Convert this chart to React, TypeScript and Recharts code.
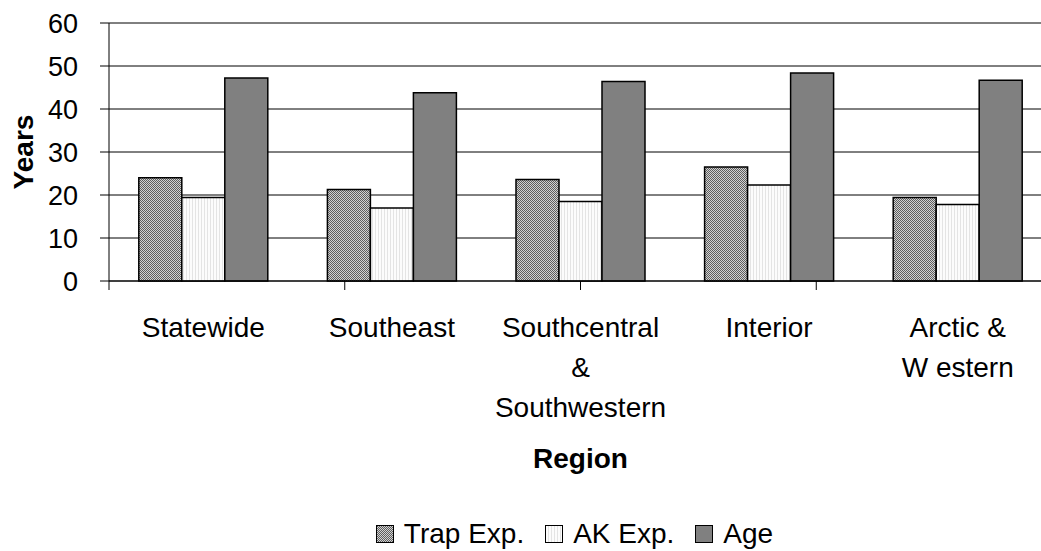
import { BarChart, Bar, XAxis, YAxis, CartesianGrid, Legend, Label } from 'recharts';

const regions = ['Statewide', 'Southeast', 'Southcentral & Southwestern', 'Interior', 'Arctic & Western'];
const regionLines = [['Statewide'], ['Southeast'], ['Southcentral', '&', 'Southwestern'], ['Interior'], ['Arctic &', 'W estern']];
const trapExp = [24.0, 21.3, 23.6, 26.5, 19.4];
const akExp = [19.4, 17.0, 18.5, 22.3, 17.8];
const age = [47.2, 43.8, 46.4, 48.4, 46.7];
const yTicks = [0, 10, 20, 30, 40, 50, 60];
const edgeTicks = [0, 1, 2, 3, 4, 5];

const FONT = '"Liberation Sans", Arial, sans-serif';

const data = regions.map((r, i) => ({ region: r, trap: trapExp[i], ak: akExp[i], age: age[i] }));

const series = [
  { key: 'trap', name: 'Trap Exp.', fill: 'url(#trapPat)' },
  { key: 'ak', name: 'AK Exp.', fill: 'url(#akPat)' },
  { key: 'age', name: 'Age', fill: '#808080' },
];

function Patterns() {
  return (
    <svg width={0} height={0} style={{ position: 'absolute' }}>
      <defs>
        <pattern id="trapPat" width={2} height={2} patternUnits="userSpaceOnUse">
          <rect width={2} height={2} fill="#d2d2d2" />
          <rect x={0} y={0} width={1} height={1} fill="#5e5e5e" />
          <rect x={1} y={1} width={1} height={1} fill="#5e5e5e" />
        </pattern>
        <pattern id="akPat" width={3} height={3} patternUnits="userSpaceOnUse">
          <rect width={3} height={3} fill="#fcfcfc" />
          <rect x={0} y={0} width={1} height={3} fill="#e4e4e4" />
        </pattern>
      </defs>
    </svg>
  );
}

function EmptyTick() {
  return <g />;
}

function RegionTick({ x, y, index }: any) {
  const lines = regionLines[index] || [];
  return (
    <text x={x} y={y} textAnchor="middle" fill="#000" fontSize={28} fontFamily={FONT}>
      {lines.map((l, i) => (
        <tspan key={i} x={x} dy={i === 0 ? 55 : 40}>{l}</tspan>
      ))}
    </text>
  );
}

function RegionLabel({ viewBox }: any) {
  return (
    <text x={viewBox.x + viewBox.width / 2} y={viewBox.y + 186} textAnchor="middle"
      fontSize={28} fontWeight="bold" fontFamily={FONT} fill="#000">Region</text>
  );
}

function YearsLabel({ viewBox }: any) {
  const cx = 33;
  const cy = viewBox.y + viewBox.height / 2;
  return (
    <text x={cx} y={cy} transform={`rotate(-90, ${cx}, ${cy})`} textAnchor="middle"
      fontSize={28} fontWeight="bold" fontFamily={FONT} fill="#000">Years</text>
  );
}

function LegendContent() {
  return (
    <div style={{ display: 'flex', justifyContent: 'center', alignItems: 'center', height: 35,
      paddingLeft: 118, fontFamily: FONT, fontSize: 28, color: '#000', lineHeight: '35px' }}>
      {series.map(s => (
        <div key={s.key} style={{ display: 'flex', alignItems: 'center', marginRight: 21 }}>
          <svg width={18} height={18} style={{ marginRight: 10 }}>
            <rect x={0.5} y={0.5} width={17} height={17} fill={s.fill} stroke="#000" strokeWidth={1} />
          </svg>
          <span>{s.name}</span>
        </div>
      ))}
    </div>
  );
}

export default function App() {
  return (
    <div style={{ position: 'absolute', left: 0, top: 0, width: 1041, height: 551, overflow: 'hidden', background: '#fff' }}>
      <Patterns />
      <BarChart width={1060} height={551} data={data}
        margin={{ top: 23, right: 8, left: 0, bottom: 0 }}
        barCategoryGap="15.8%" barGap={0}>
        <CartesianGrid vertical={false} stroke="#000" strokeWidth={1} />
        <XAxis xAxisId="cat" dataKey="region" interval={0} tickLine={false} axisLine={false}
          tickSize={0} tickMargin={0} height={234} tick={<RegionTick />}>
          <Label content={<RegionLabel />} />
        </XAxis>
        <XAxis xAxisId="aedge" type="number" domain={[0, 5]} ticks={edgeTicks} tick={<EmptyTick />}
          tickLine={{ stroke: '#000' }} tickSize={9} axisLine={{ stroke: '#000' }} height={1} allowDataOverflow />
        <YAxis domain={[0, 60]} ticks={yTicks} width={109} tickSize={9} tickMargin={22}
          axisLine={{ stroke: '#000' }} tickLine={{ stroke: '#000' }}
          tick={{ fill: '#000', fontSize: 27, fontFamily: FONT }}>
          <Label content={<YearsLabel />} />
        </YAxis>
        <Legend verticalAlign="bottom" height={35} content={<LegendContent />} />
        {series.map(s => (
          <Bar key={s.key} xAxisId="cat" dataKey={s.key} name={s.name} fill={s.fill}
            stroke="#000" strokeWidth={1.5} isAnimationActive={false} />
        ))}
      </BarChart>
    </div>
  );
}
